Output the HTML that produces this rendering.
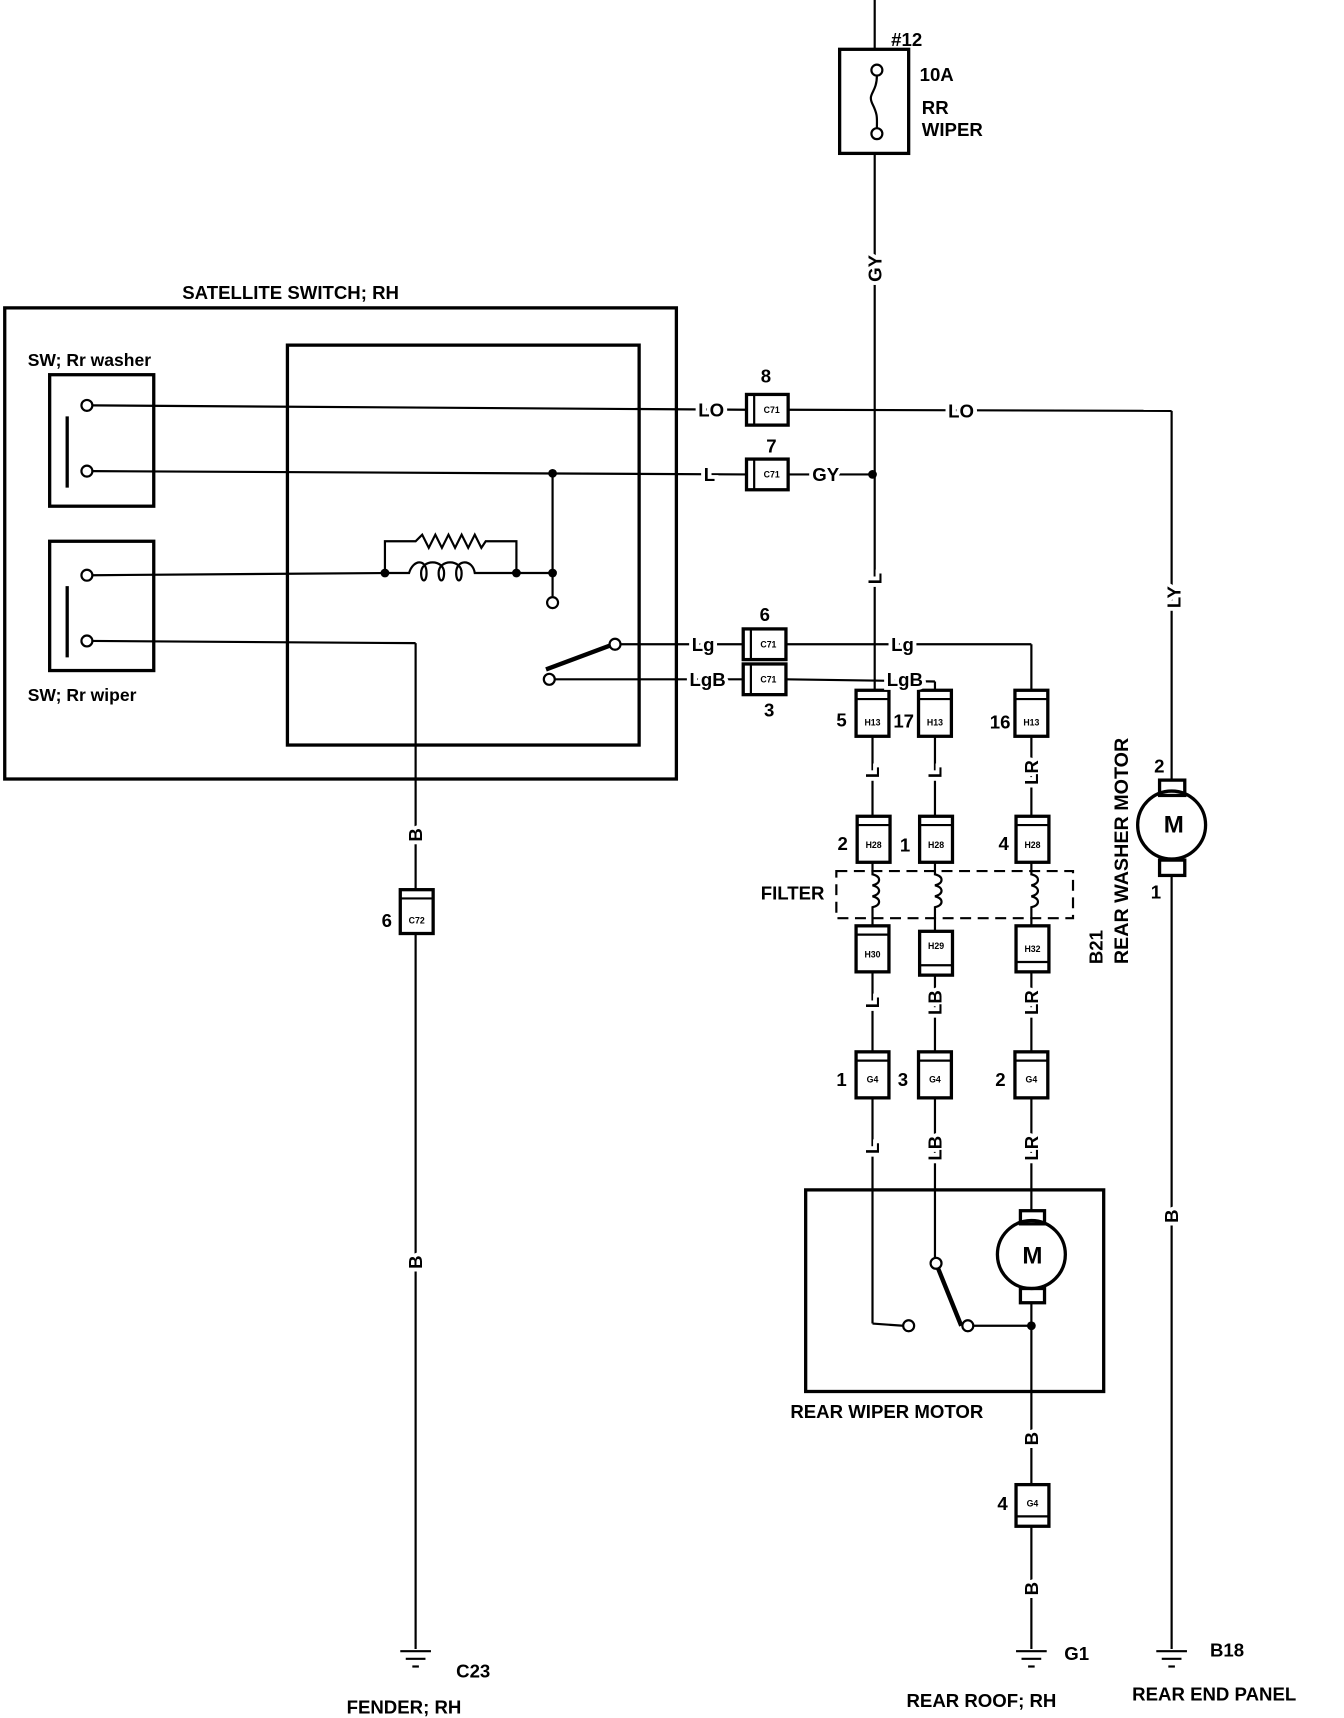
<!DOCTYPE html>
<html><head><meta charset="utf-8"><style>
html,body{margin:0;padding:0;background:#fff;}
svg{display:block}
text{font-family:"Liberation Sans",sans-serif;font-weight:bold;fill:#000}
.l{font-size:17px;stroke:#fff;stroke-width:7px;paint-order:stroke;}
.t{font-size:17px}
.c{font-size:8px;text-anchor:middle}
</style></head><body>
<svg width="1344" height="1718" viewBox="0 0 1224 1568" xmlns="http://www.w3.org/2000/svg">
<g fill="none" stroke="#000" stroke-width="2">
<!-- main vertical wire -->
<line x1="797" y1="0" x2="797" y2="45"/>
<line x1="797" y1="140" x2="797" y2="630"/>
<rect x="765" y="45" width="63" height="95" stroke-width="3"/>
<circle cx="799" cy="64" r="5"/><circle cx="799" cy="122" r="5"/>
<path d="M799 69 C799 85 790 85 795 95 C800 105 799 108 799 117"/>
<!-- satellite switch -->
<rect x="3" y="281" width="613" height="430" stroke-width="3"/>
<rect x="261" y="315" width="321" height="365" stroke-width="3"/>
<rect x="44" y="342" width="95" height="120" stroke-width="3"/>
<rect x="44" y="494" width="95" height="118" stroke-width="3"/>
<line x1="60" y1="380" x2="60" y2="445" stroke-width="3"/>
<line x1="60" y1="535" x2="60" y2="600" stroke-width="3"/>
<circle cx="78" cy="370" r="5"/><circle cx="78" cy="430" r="5"/>
<circle cx="78" cy="525" r="5"/><circle cx="78" cy="585" r="5"/>
<!-- LO wire -->
<line x1="83" y1="370" x2="680" y2="374"/>
<line x1="718" y1="374" x2="1068" y2="375"/>
<line x1="1068" y1="375" x2="1068" y2="712"/>
<!-- L wire -->
<line x1="83" y1="430" x2="680" y2="433"/>
<line x1="718" y1="433" x2="797" y2="433"/>
<line x1="503" y1="432" x2="503" y2="544"/>
<circle cx="503" cy="550" r="5"/>
<!-- resistor/coil -->
<line x1="83" y1="525" x2="350" y2="523"/>
<path d="M350 523 V494 H378 L384 488 L390 500 L396 488 L402 500 L408 488 L414 500 L420 488 L426 500 L432 488 L438 500 L442 494 H470 V523"/>
<path d="M350 523 H372 C376 510 388 510 388 523 C388 532 383 532 383 523 C383 510 404 510 404 523 C404 532 399 532 399 523 C399 510 420 510 420 523 C420 532 415 532 415 523 C415 510 430 510 432 523 H503"/>
<!-- wiper wire to ground -->
<line x1="83" y1="585" x2="378" y2="587"/>
<line x1="378" y1="587" x2="378" y2="812"/>
<line x1="378" y1="852" x2="378" y2="1505"/>
<!-- switch blade -->
<line x1="497" y1="611" x2="556" y2="589" stroke-width="4"/>
<circle cx="560" cy="588" r="5"/><circle cx="500" cy="620" r="5"/>
<line x1="565" y1="588" x2="676" y2="588"/>
<line x1="716" y1="588" x2="940" y2="588"/>
<line x1="940" y1="588" x2="940" y2="630"/>
<line x1="505" y1="620" x2="676" y2="620"/>
<line x1="716" y1="620" x2="852" y2="622"/>
<line x1="852" y1="622" x2="852" y2="630"/>
<!-- columns -->
<line x1="795" y1="672" x2="795" y2="745"/>
<line x1="852" y1="672" x2="852" y2="745"/>
<line x1="940" y1="672" x2="940" y2="745"/>
<line x1="795" y1="887" x2="795" y2="960"/>
<line x1="852" y1="890" x2="852" y2="960"/>
<line x1="940" y1="887" x2="940" y2="960"/>
<line x1="795" y1="1002" x2="795" y2="1208"/>
<line x1="795" y1="1208" x2="823" y2="1210"/>
<circle cx="828" cy="1210" r="5"/>
<line x1="852" y1="1002" x2="852" y2="1148"/>
<circle cx="853" cy="1153" r="5"/>
<line x1="855" y1="1158" x2="876" y2="1210" stroke-width="4"/>
<circle cx="882" cy="1210" r="5"/>
<line x1="887" y1="1210" x2="940" y2="1210"/>
<line x1="940" y1="1002" x2="940" y2="1105"/>
<line x1="940" y1="1190" x2="940" y2="1355"/>
<line x1="940" y1="1393" x2="940" y2="1505"/>
<!-- filter -->
<rect x="762" y="795" width="216" height="43" stroke-dasharray="10,6"/>
<g stroke-width="2">
<path d="M795 787 V798 C803 800 803 806 795 808 C803 810 803 816 795 818 C803 820 803 826 795 828 V845"/>
<path d="M852 787 V798 C860 800 860 806 852 808 C860 810 860 816 852 818 C860 820 860 826 852 828 V850"/>
<path d="M940 787 V798 C948 800 948 806 940 808 C948 810 948 816 940 818 C948 820 948 826 940 828 V845"/>
</g>
<!-- rear wiper motor box -->
<rect x="734" y="1086" width="272" height="184" stroke-width="3"/>
<circle cx="940" cy="1145" r="31" stroke-width="3"/>
<rect x="930" y="1105" width="22" height="12" stroke-width="3"/>
<rect x="930" y="1176" width="22" height="13" stroke-width="3"/>
<!-- washer motor -->
<circle cx="1068" cy="753" r="31" stroke-width="3"/>
<rect x="1057" y="712" width="23" height="14" stroke-width="3"/>
<rect x="1057" y="785" width="23" height="14" stroke-width="3"/>
<line x1="1068" y1="799" x2="1068" y2="1505"/>
<!-- grounds -->
<g stroke-width="2">
<line x1="364" y1="1507" x2="392" y2="1507"/><line x1="369" y1="1514" x2="387" y2="1514"/><line x1="375" y1="1521" x2="381" y2="1521"/>
<line x1="926" y1="1507" x2="954" y2="1507"/><line x1="931" y1="1514" x2="949" y2="1514"/><line x1="937" y1="1521" x2="943" y2="1521"/>
<line x1="1054" y1="1507" x2="1082" y2="1507"/><line x1="1059" y1="1514" x2="1077" y2="1514"/><line x1="1065" y1="1521" x2="1071" y2="1521"/>
</g>
</g>
<!-- dots -->
<g fill="#000">
<circle cx="503" cy="432" r="4"/><circle cx="795" cy="433" r="4"/>
<circle cx="503" cy="523" r="4"/><circle cx="350" cy="523" r="4"/><circle cx="470" cy="523" r="4"/>
<circle cx="940" cy="1210" r="4"/>
</g>
<!-- horizontal connectors -->
<g fill="#fff" stroke="#000" stroke-width="3">
<rect x="680" y="360" width="38" height="28"/><rect x="680" y="419" width="38" height="28"/>
<rect x="677" y="574" width="39" height="28"/><rect x="677" y="606" width="39" height="28"/>
</g>
<g stroke="#000" stroke-width="2">
<line x1="687" y1="360" x2="687" y2="388"/><line x1="687" y1="419" x2="687" y2="447"/>
<line x1="684" y1="574" x2="684" y2="602"/><line x1="684" y1="606" x2="684" y2="634"/>
</g>
<text class="c" x="703" y="377">C71</text><text class="c" x="703" y="436">C71</text>
<text class="c" x="700" y="591">C71</text><text class="c" x="700" y="623">C71</text>
<!-- vertical connectors -->
<g fill="#fff" stroke="#000" stroke-width="3">
<rect x="364" y="812" width="30" height="40"/>
<rect x="780" y="630" width="30" height="42"/><rect x="837" y="630" width="30" height="42"/><rect x="925" y="630" width="30" height="42"/>
<rect x="781" y="745" width="30" height="42"/><rect x="838" y="745" width="30" height="42"/><rect x="926" y="745" width="30" height="42"/>
<rect x="780" y="845" width="30" height="42"/><rect x="838" y="850" width="30" height="40"/><rect x="926" y="845" width="30" height="42"/>
<rect x="780" y="960" width="30" height="42"/><rect x="837" y="960" width="30" height="42"/><rect x="925" y="960" width="30" height="42"/>
<rect x="926" y="1355" width="30" height="38"/>
</g>
<g stroke="#000" stroke-width="2">
<line x1="364" y1="820" x2="394" y2="820"/>
<line x1="780" y1="638" x2="810" y2="638"/><line x1="837" y1="638" x2="867" y2="638"/><line x1="925" y1="638" x2="955" y2="638"/>
<line x1="781" y1="753" x2="811" y2="753"/><line x1="838" y1="753" x2="868" y2="753"/><line x1="926" y1="753" x2="956" y2="753"/>
<line x1="780" y1="853" x2="810" y2="853"/><line x1="838" y1="881" x2="868" y2="881"/><line x1="926" y1="878" x2="956" y2="878"/>
<line x1="780" y1="968" x2="810" y2="968"/><line x1="837" y1="968" x2="867" y2="968"/><line x1="925" y1="968" x2="955" y2="968"/>
<line x1="926" y1="1384" x2="956" y2="1384"/>
</g>
<text class="c" x="379" y="843">C72</text>
<text class="c" x="795" y="662">H13</text><text class="c" x="852" y="662">H13</text><text class="c" x="940" y="662">H13</text>
<text class="c" x="796" y="774">H28</text><text class="c" x="853" y="774">H28</text><text class="c" x="941" y="774">H28</text>
<text class="c" x="795" y="874">H30</text><text class="c" x="853" y="866">H29</text><text class="c" x="941" y="869">H32</text>
<text class="c" x="795" y="988">G4</text><text class="c" x="852" y="988">G4</text><text class="c" x="940" y="988">G4</text>
<text class="c" x="941" y="1375">G4</text>
<!-- labels -->
<text class="t" x="812" y="42">#12</text>
<text class="t" x="838" y="74">10A</text>
<text class="t" x="840" y="104">RR</text>
<text class="t" x="840" y="124">WIPER</text>
<text class="t" x="165" y="273">SATELLITE SWITCH; RH</text>
<text class="t" x="24" y="334" style="font-size:16px">SW; Rr washer</text>
<text class="t" x="24" y="640" style="font-size:16px">SW; Rr wiper</text>
<text class="l" x="636" y="380">LO</text>
<text class="l" x="864" y="381">LO</text>
<text class="l" x="641" y="439">L</text>
<text class="l" x="740" y="439">GY</text>
<text class="l" x="630" y="594">Lg</text>
<text class="l" x="812" y="594">Lg</text>
<text class="l" x="628" y="626">LgB</text>
<text class="l" x="808" y="626">LgB</text>
<text class="t" x="693" y="349">8</text><text class="t" x="698" y="413">7</text>
<text class="t" x="692" y="567">6</text><text class="t" x="696" y="654">3</text>
<text class="t" x="762" y="663">5</text><text class="t" x="814" y="664">17</text><text class="t" x="902" y="665">16</text>
<text class="t" x="763" y="776">2</text><text class="t" x="820" y="777">1</text><text class="t" x="910" y="776">4</text>
<text class="t" x="762" y="991">1</text><text class="t" x="818" y="991">3</text><text class="t" x="907" y="991">2</text>
<text class="t" x="909" y="1378">4</text><text class="t" x="347" y="846">6</text>
<text class="t" x="1052" y="705">2</text><text class="t" x="1049" y="820">1</text>
<text class="t" x="693" y="821">FILTER</text>
<text class="t" x="720" y="1294">REAR WIPER MOTOR</text>
<text class="t" x="415" y="1531">C23</text><text class="t" x="315" y="1564">FENDER; RH</text>
<text class="t" x="970" y="1515">G1</text><text class="t" x="826" y="1558">REAR ROOF; RH</text>
<text class="t" x="1103" y="1512">B18</text><text class="t" x="1032" y="1552">REAR END PANEL</text>
<text class="t" x="1070" y="760" text-anchor="middle" style="font-size:22px">M</text>
<text class="t" x="941" y="1153" text-anchor="middle" style="font-size:22px">M</text>
<!-- rotated wire labels -->
<g class="l">
<text class="l" transform="translate(803,245) rotate(-90)" text-anchor="middle">GY</text>
<text class="l" transform="translate(803,528) rotate(-90)" text-anchor="middle">L</text>
<text class="l" transform="translate(1076,545) rotate(-90)" text-anchor="middle">LY</text>
<text class="l" transform="translate(384,762) rotate(-90)" text-anchor="middle">B</text>
<text class="l" transform="translate(384,1152) rotate(-90)" text-anchor="middle">B</text>
<text class="l" transform="translate(801,705) rotate(-90)" text-anchor="middle">L</text>
<text class="l" transform="translate(858,705) rotate(-90)" text-anchor="middle">L</text>
<text class="l" transform="translate(946,705) rotate(-90)" text-anchor="middle">LR</text>
<text class="l" transform="translate(801,915) rotate(-90)" text-anchor="middle">L</text>
<text class="l" transform="translate(858,915) rotate(-90)" text-anchor="middle">LB</text>
<text class="l" transform="translate(946,915) rotate(-90)" text-anchor="middle">LR</text>
<text class="l" transform="translate(801,1048) rotate(-90)" text-anchor="middle">L</text>
<text class="l" transform="translate(858,1048) rotate(-90)" text-anchor="middle">LB</text>
<text class="l" transform="translate(946,1048) rotate(-90)" text-anchor="middle">LR</text>
<text class="l" transform="translate(946,1313) rotate(-90)" text-anchor="middle">B</text>
<text class="l" transform="translate(946,1450) rotate(-90)" text-anchor="middle">B</text>
<text class="l" transform="translate(1074,1110) rotate(-90)" text-anchor="middle">B</text>
</g>
<text class="t" transform="translate(1005,880) rotate(-90)">B21</text>
<text class="t" transform="translate(1028,880) rotate(-90)" style="font-size:18px">REAR WASHER MOTOR</text>
</svg>
</body></html>
